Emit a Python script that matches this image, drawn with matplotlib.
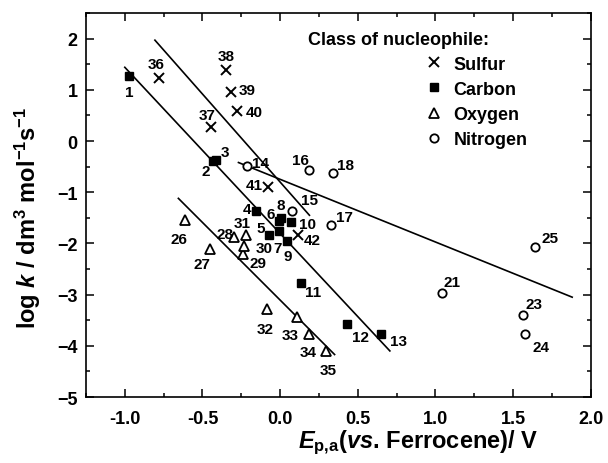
import numpy as np
import matplotlib
matplotlib.use("Agg")
import matplotlib.pyplot as plt
from matplotlib.ticker import MultipleLocator

plt.rcParams['font.family'] = 'Liberation Sans'
plt.rcParams['font.weight'] = 'bold'
plt.rcParams['axes.labelweight'] = 'bold'
plt.rcParams['mathtext.fontset'] = 'custom'
plt.rcParams['mathtext.rm'] = 'Liberation Sans:bold'
plt.rcParams['mathtext.it'] = 'Liberation Sans:italic:bold'
plt.rcParams['mathtext.bf'] = 'Liberation Sans:bold'

# -----------------------------
# data
# -----------------------------
sulfur_ids = ['36', '37', '38', '39', '40', '41', '42']
sulfur_x = [-0.78, -0.442, -0.349, -0.313, -0.278, -0.080, 0.118]
sulfur_y = [1.23, 0.27, 1.39, 0.955, 0.58, -0.89, -1.84]

carbon_ids = ['1', '2', '3', '4', '5', '6', '', '7', '9', '10', '11', '12', '13']
carbon_x = [-0.97, -0.43, -0.41, -0.155, -0.072, 0.006, -0.010, -0.005, 0.043, 0.073, 0.135, 0.431, 0.653]
carbon_y = [1.27, -0.40, -0.37, -1.36, -1.83, -1.50, -1.57, -1.76, -1.95, -1.58, -2.77, -3.57, -3.77]

oxygen_ids = ['26', '27', '28', '29', '30', '31', '32', '33', '34', '35']
oxygen_x = [-0.612, -0.451, -0.296, -0.242, -0.231, -0.220, -0.085, 0.109, 0.189, 0.293]
oxygen_y = [-1.55, -2.11, -1.87, -2.21, -2.06, -1.83, -3.28, -3.44, -3.77, -4.10]

nitrogen_ids = ['8', '14', '16', '17', '18', '21', '23', '24', '25']
nitrogen_x = [0.077, -0.214, 0.185, 0.325, 0.340, 1.041, 1.562, 1.579, 1.644]
nitrogen_y = [-1.37, -0.48, -0.57, -1.64, -0.62, -2.96, -3.39, -3.76, -2.07]

# label with no visible marker
extra_ids = ['15']
extra_x = [0.19]
extra_y = [-1.15]

# correlation lines (end points)
line_x = [[-1.0, 0.707], [-0.806, 0.189], [-0.655, 0.351], [-0.268, 1.881]]
line_y = [[1.44, -4.10], [1.97, -1.45], [-1.12, -4.17], [-0.42, -3.05]]

# label offsets in pixels (right, up)
offsets = {
    '1': (0, -16), '36': (-3, 14), '38': (0, 14), '39': (16, 2), '40': (17, -1),
    '37': (-4, 12), '3': (9, 8), '2': (-8, -10), '14': (14, 3), '16': (-8, 10),
    '18': (13, 8), '41': (-13, 2), '4': (-9, 2), '6': (-10, 4), '8': (-11, 6),
    '10': (16, -2), '17': (14, 8), '31': (-4, 12), '28': (-9, 3), '26': (-6, -19),
    '5': (-8, 7), '30': (20, -2), '7': (-2, -17), '42': (14, -5), '9': (1, -15),
    '27': (-8, -15), '29': (15, -9), '11': (12, -9), '32': (-2, -20), '33': (-7, -18),
    '34': (-1, -18), '35': (3, -19), '12': (13, -13), '13': (17, -7), '25': (15, 9),
    '21': (10, 11), '23': (11, 11), '24': (16, -13), '15': (0, 0),
}

# -----------------------------
# plot
# -----------------------------
fig = plt.figure(figsize=(6.08, 4.64), dpi=100)
ax = fig.add_axes([0.1414, 0.1422, 0.8301, 0.8276])

for lx, ly in zip(line_x, line_y):
    ax.plot(lx, ly, color='black', lw=1.2)

ax.plot(sulfur_x, sulfur_y, 'x', color='black', ms=6.5, mew=1.4, ls='none', label='Sulfur')
ax.plot(carbon_x, carbon_y, 's', color='black', ms=6, ls='none', label='Carbon')
ax.plot(oxygen_x, oxygen_y, '^', mfc='white', mec='black', ms=7, mew=1.3, ls='none', label='Oxygen')
ax.plot(nitrogen_x, nitrogen_y, 'o', mfc='white', mec='black', ms=6, mew=1.3, ls='none', label='Nitrogen')

for ids, xs, ys in [(sulfur_ids, sulfur_x, sulfur_y), (carbon_ids, carbon_x, carbon_y),
                    (oxygen_ids, oxygen_x, oxygen_y), (nitrogen_ids, nitrogen_x, nitrogen_y),
                    (extra_ids, extra_x, extra_y)]:
    for name, x, y in zip(ids, xs, ys):
        if not name:
            continue
        ax.annotate(name, (x, y), xytext=offsets[name], textcoords='offset pixels',
                    ha='center', va='center', fontsize=11)

ax.set_xlim(-1.25, 2.0)
ax.set_ylim(-5, 2.5)
ax.xaxis.set_minor_locator(MultipleLocator(0.25))
ax.yaxis.set_major_locator(MultipleLocator(1))
ax.yaxis.set_minor_locator(MultipleLocator(0.5))
xt = np.arange(-1.0, 2.01, 0.5)
ax.set_xticks(xt)
ax.set_xticklabels([f"{v:.1f}" for v in xt])
ax.tick_params(which='both', direction='in', top=True, right=True, width=1.1)
ax.tick_params(which='major', length=5.5, labelsize=13)
ax.tick_params(which='minor', length=3)
ax.tick_params(axis='x', which='major', pad=9)
ax.tick_params(axis='y', which='major', pad=6)
for s in ax.spines.values():
    s.set_linewidth(1.2)

ax.set_xlabel(r"$\mathit{E}_{\mathrm{p{,}a}}$($\mathit{vs}$. Ferrocene)/ V", fontsize=17)
ax.xaxis.set_label_coords(0.658, -0.08)
ax.set_ylabel(r"log $\mathit{k}$ / dm$^{3}$ mol$^{-1}$s$^{-1}$", fontsize=17)
ax.yaxis.set_label_coords(-0.085, 0.47)

ax.text(0.44, 0.932, "Class of nucleophile:", transform=ax.transAxes,
        ha='left', va='center', fontsize=13)
ax.legend(loc='upper left', bbox_to_anchor=(0.671, 0.889), frameon=False,
          fontsize=13, handlelength=1.0, handletextpad=0.6, labelspacing=0.45,
          borderpad=0, borderaxespad=0, numpoints=1)

fig.savefig("out.png", dpi=100)
